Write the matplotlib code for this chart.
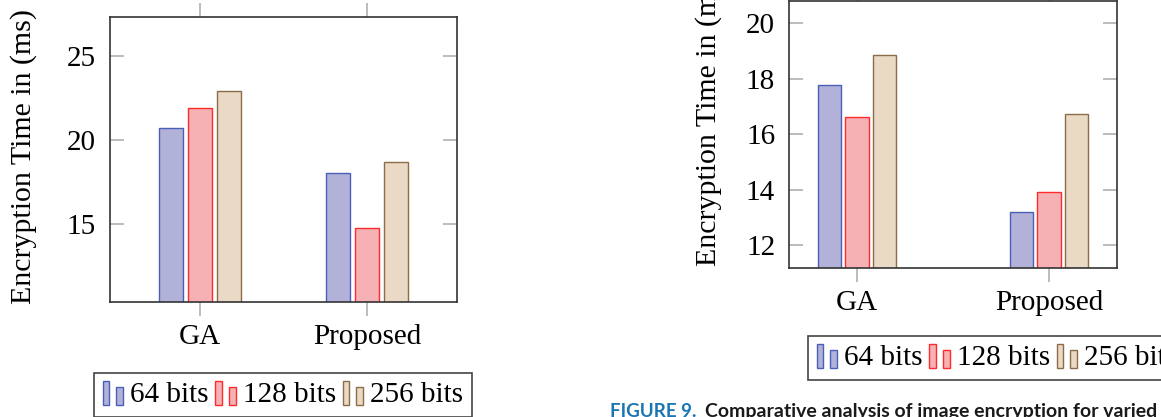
import numpy as np
import matplotlib
matplotlib.use('Agg')
import matplotlib.pyplot as plt
from matplotlib.patches import Rectangle
from matplotlib.legend_handler import HandlerBase

# data
groups = ['GA', 'Proposed']
series = ['64 bits', '128 bits', '256 bits']
left_vals = [[20.7, 18.05], [21.9, 14.75], [22.9, 18.7]]
right_vals = [[17.77, 13.18], [16.63, 13.9], [18.85, 16.72]]
left_yticks = [15, 20, 25]
right_yticks = [12, 14, 16, 18, 20]

fills = ['#b2b2d9', '#f5b1b3', '#ead9c5']
edges = ['#4a5fb8', '#ff2a2a', '#8c6d4a']

plt.rcParams['font.family'] = ['Liberation Serif', 'DejaVu Serif']

W, H = 1161, 417
fig = plt.figure(figsize=(W / 100, H / 100), dpi=100)


def px_axes(x0, y0, x1, y1):
    return fig.add_axes([x0 / W, 1 - y1 / H, (x1 - x0) / W, (y1 - y0) / H])


class TwoBars(HandlerBase):
    # pgfplots style ybar legend: two small bars
    def create_artists(self, legend, orig_handle, xdescent, ydescent,
                       width, height, fontsize, trans):
        fc = orig_handle.get_facecolor()
        ec = orig_handle.get_edgecolor()
        bw = width * 0.3
        r1 = Rectangle((-xdescent, -ydescent - 2), bw, height * 1.15,
                       facecolor=fc, edgecolor=ec, lw=1, transform=trans)
        r2 = Rectangle((-xdescent + width * 0.62, -ydescent - 2), bw, height * 0.9,
                       facecolor=fc, edgecolor=ec, lw=1, transform=trans)
        return [r1, r2]


def panel(ax, vals, step, bw, ylim, yticks, xlim):
    x = np.arange(len(groups))
    handles = []
    for i, s in enumerate(series):
        b = ax.bar(x + (i - 1) * step, vals[i], bw, bottom=0,
                   color=fills[i], edgecolor=edges[i], linewidth=1, label=s)
        handles.append(b.patches[0])
    ax.set_xlim(*xlim)
    ax.set_ylim(*ylim)
    ax.set_xticks(x)
    ax.set_xticklabels(groups)
    ax.set_yticks(yticks)
    ax.tick_params(axis='x', direction='out', length=10, width=1.2,
                   color='#b0b0b0', top=True, labelsize=21, pad=6)
    ax.tick_params(axis='y', direction='in', length=10, width=1.2,
                   color='#b0b0b0', right=True, labelsize=21, pad=10)
    for sp in ax.spines.values():
        sp.set_color('#333333')
        sp.set_linewidth(1.2)
    ax.set_ylabel('Encryption Time in (ms)', fontsize=21.5)
    return handles


ax1 = px_axes(110, 17, 457, 302)
h1 = panel(ax1, left_vals, 0.175, 0.146, (10.36, 27.3), left_yticks, (-0.539, 1.539))
ax1.yaxis.set_label_coords((37 - 110) / 347, 0.512)

ax2 = px_axes(789, 0.5, 1117, 268)
h2 = panel(ax2, right_vals, 0.144, 0.121, (11.17, 20.82), right_yticks, (-0.354, 1.354))
ax2.yaxis.set_label_coords((722 - 789) / 328, 0.56)

leg_kw = dict(ncol=3, fontsize=21, handlelength=0.75, handleheight=0.7,
              handletextpad=0.2, columnspacing=0.22, borderpad=0.3,
              borderaxespad=0, fancybox=False, framealpha=1,
              edgecolor='#444444', handler_map={Rectangle: TwoBars()})
leg1 = fig.legend(h1, series, loc='upper left',
                  bbox_to_anchor=(94 / W, 1 - 373 / H), **leg_kw)
leg2 = fig.legend(h2, series, loc='upper left',
                  bbox_to_anchor=(808 / W, 1 - 336 / H), **leg_kw)
for lg in (leg1, leg2):
    lg.get_frame().set_linewidth(1.2)

cap_y = 1 - 403 / H
fig.text(610 / W, cap_y, 'FIGURE 9.', color='#1a76b3', fontsize=13.5,
         fontweight='bold', family='Lato', va='top')
fig.text(705 / W, cap_y, 'Comparative analysis of image encryption for varied',
         color='#1a1a1a', fontsize=14.0, fontweight='bold', family='Lato',
         va='top')

fig.savefig('out.png', dpi=100)
